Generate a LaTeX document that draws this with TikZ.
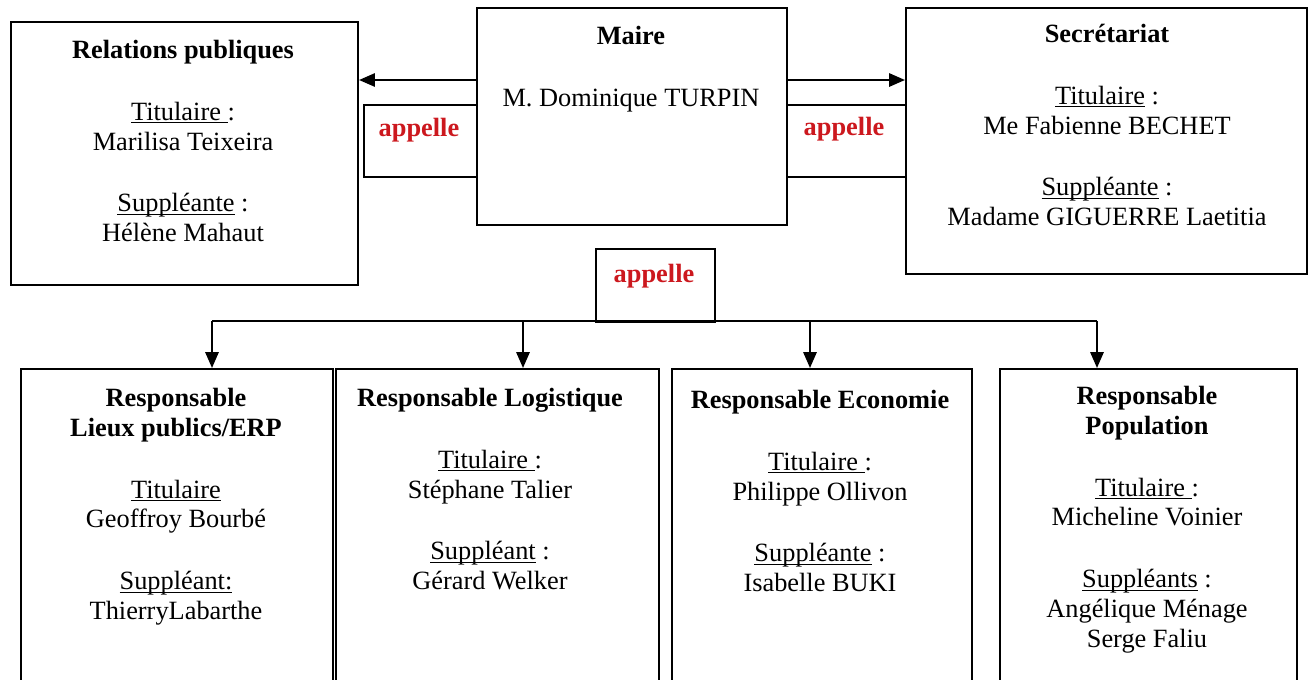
\documentclass[tikz,border=0pt]{standalone}
\usepackage{fontspec}
\setmainfont{Liberation Serif}
\usetikzlibrary{arrows.meta}
\definecolor{appred}{RGB}{204,24,30}
\newcommand{\souligne}[1]{\underline{\smash{#1}}}
\tikzset{
	box/.style={draw, line width=1.2pt, anchor=north west, inner sep=0pt},
	txt/.style={anchor=north, align=center, inner sep=0pt, font=\fontsize{15}{17}\selectfont},
	appel/.style={anchor=base, inner sep=0pt, text=appred, font=\bfseries\fontsize{15}{17}\selectfont}
}
\begin{document}
\begin{tikzpicture}[x=0.02cm, y=-0.02cm, line width=1.2pt, >={Triangle[length=9pt,width=7.5pt]}]
		\useasboundingbox (0,0) rectangle (1313,680);
		
		\node[box, minimum width=6.94cm, minimum height=5.26cm] (relpub) at (10,21) {};
		\node[box, minimum width=6.2cm, minimum height=4.34cm] (maire) at (476,7) {};
		\node[box, minimum width=8.02cm, minimum height=5.32cm] (secr) at (905,7) {};
		\node[box, minimum width=2.26cm, minimum height=1.44cm] (apG) at (363,104) {};
		\node[box, minimum width=2.38cm, minimum height=1.44cm] (apD) at (786,104) {};
		\node[box, minimum width=2.38cm, minimum height=1.46cm] (apB) at (595,248) {};
		
		\node[appel] (apGt) at (419,136) {appelle};
		\node[appel] (apDt) at (844,135) {appelle};
		\node[appel] (apBt) at (654,282) {appelle};
		
		\node[txt] (relpubt) at (183,39) {\textbf{Relations publiques}\\[0.64cm]\souligne{Titulaire\ }:\\Marilisa Teixeira\\[0.64cm]\souligne{Suppléante} :\\Hélène Mahaut};
		\node[txt] (mairet) at (631,25) {\textbf{Maire}\\[0.64cm]M. Dominique TURPIN};
		\node[txt] (secrt) at (1107,23) {\textbf{Secrétariat}\\[0.64cm]\souligne{Titulaire} :\\Me Fabienne BECHET\\[0.64cm]\souligne{Suppléante} :\\Madame GIGUERRE Laetitia};
		
		\node[box, minimum width=6.24cm, minimum height=6.32cm] (resp1) at (20,368) {};
		\node[box, minimum width=6.46cm, minimum height=6.32cm] (resp2) at (335,368) {};
		\node[box, minimum width=6.0cm, minimum height=6.32cm] (resp3) at (671,368) {};
		\node[box, minimum width=5.94cm, minimum height=6.32cm] (resp4) at (999,368) {};
		
		\node[txt] (resp1t) at (176,387) {\textbf{Responsable}\\\textbf{Lieux publics/ERP}\\[0.64cm]\souligne{Titulaire}\\Geoffroy Bourbé\\[0.64cm]\souligne{Suppléant:}\\ThierryLabarthe};
		\node[txt] (resp2t) at (490,387) {\textbf{Responsable Logistique}\\[0.64cm]\souligne{Titulaire\ }:\\Stéphane Talier\\[0.64cm]\souligne{Suppléant} :\\Gérard Welker};
		\node[txt] (resp3t) at (820,389) {\textbf{Responsable Economie}\\[0.64cm]\souligne{Titulaire\ }:\\Philippe Ollivon\\[0.64cm]\souligne{Suppléante} :\\Isabelle BUKI};
		\node[txt] (resp4t) at (1147,385) {\textbf{Responsable}\\\textbf{Population}\\[0.64cm]\souligne{Titulaire\ }:\\Micheline Voinier\\[0.64cm]\souligne{Suppléants} :\\Angélique Ménage\\Serge Faliu};
		
		\coordinate (ligne) at (0,80);
		\draw[->] (maire.west |- ligne) -- (relpub.east |- ligne);
		\draw[->] (maire.east |- ligne) -- (secr.west |- ligne);
		
		\coordinate (busG) at (212,321); \coordinate (busD) at (1097,321);
		\draw (busG) -- (busD);
		\foreach \x/\b in {212/resp1, 523/resp2, 810/resp3, 1097/resp4}
		{\coordinate (d\b) at (\x,321); \draw[->] (d\b) -- (d\b |- \b.north);}
\end{tikzpicture}
\end{document}
